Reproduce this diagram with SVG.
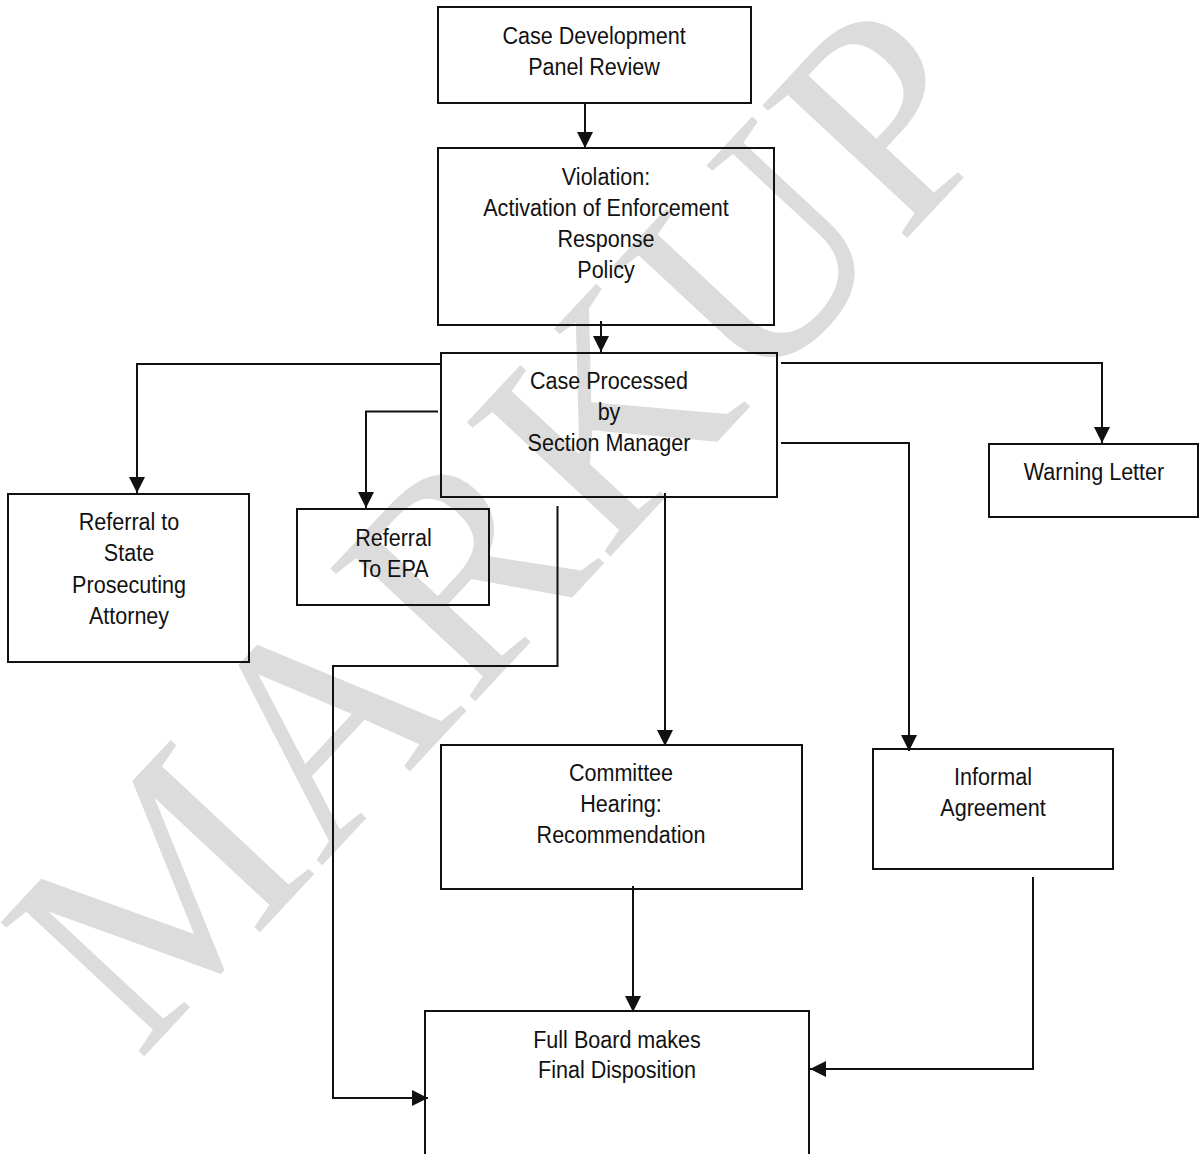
<svg xmlns="http://www.w3.org/2000/svg" width="1200" height="1154" viewBox="0 0 1200 1154">
<style>
  .box { fill: none; stroke: #111; stroke-width: 2; }
  .lbl { font-family: "Liberation Sans", Arial, sans-serif; font-size: 24.5px; fill: #111; text-anchor: middle; }
  .conn { fill: none; stroke: #111; stroke-width: 2; }
  .wm { font-family: "Liberation Serif", "Times New Roman", serif; font-size: 300px; fill: #dcdcdc; text-anchor: middle; }
</style>
<defs>
  <marker id="arr" markerUnits="userSpaceOnUse" markerWidth="16" markerHeight="16" viewBox="0 0 14 14" refX="14" refY="7" orient="auto">
    <path d="M0,0 L14,7 L0,14 Z" fill="#111"/>
  </marker>
</defs>
<rect width="1200" height="1154" fill="#fff"/>
<g id="watermark">
  <text class="wm" transform="translate(503,525) rotate(-47)" x="0" y="100">MARKUP</text>
</g>
<g id="connectors">
  <path class="conn" d="M585,103 V148" marker-end="url(#arr)"/>
  <path class="conn" d="M601,321 V352" marker-end="url(#arr)"/>
  <path class="conn" d="M441,364 H137 V493" marker-end="url(#arr)"/>
  <path class="conn" d="M438,411.5 H366 V508" marker-end="url(#arr)"/>
  <path class="conn" d="M557.5,506 V666 H333 V1098 H428" marker-end="url(#arr)"/>
  <path class="conn" d="M665,493 V746" marker-end="url(#arr)"/>
  <path class="conn" d="M781,363 H1102 V443" marker-end="url(#arr)"/>
  <path class="conn" d="M781,443 H909 V751" marker-end="url(#arr)"/>
  <path class="conn" d="M633,886 V1012" marker-end="url(#arr)"/>
  <path class="conn" d="M1033,877 V1069 H810" marker-end="url(#arr)"/>
</g>
<g id="n1">
  <rect class="box" x="438" y="7" width="313" height="96"/>
  <g transform="translate(594,0) scale(0.88,1)">
    <text class="lbl" x="0" y="44.5">Case Development</text>
    <text class="lbl" x="0" y="75">Panel Review</text>
  </g>
</g>
<g id="n2">
  <rect class="box" x="438" y="148" width="336" height="177"/>
  <g transform="translate(606,0) scale(0.88,1)">
    <text class="lbl" x="0" y="185">Violation:</text>
    <text class="lbl" x="0" y="216">Activation of Enforcement</text>
    <text class="lbl" x="0" y="247">Response</text>
    <text class="lbl" x="0" y="278">Policy</text>
  </g>
</g>
<g id="n3">
  <rect class="box" x="441" y="353" width="336" height="144"/>
  <g transform="translate(609,0) scale(0.88,1)">
    <text class="lbl" x="0" y="389">Case Processed</text>
    <text class="lbl" x="0" y="420">by</text>
    <text class="lbl" x="0" y="451">Section Manager</text>
  </g>
</g>
<g id="n4">
  <rect class="box" x="8" y="494" width="241" height="168"/>
  <g transform="translate(129,0) scale(0.88,1)">
    <text class="lbl" x="0" y="530">Referral to</text>
    <text class="lbl" x="0" y="561.5">State</text>
    <text class="lbl" x="0" y="593">Prosecuting</text>
    <text class="lbl" x="0" y="624">Attorney</text>
  </g>
</g>
<g id="n5">
  <rect class="box" x="297" y="509" width="192" height="96"/>
  <g transform="translate(393.5,0) scale(0.88,1)">
    <text class="lbl" x="0" y="546">Referral</text>
    <text class="lbl" x="0" y="577">To EPA</text>
  </g>
</g>
<g id="n6">
  <rect class="box" x="989" y="444" width="209" height="73"/>
  <g transform="translate(1094,0) scale(0.88,1)">
    <text class="lbl" x="0" y="480">Warning Letter</text>
  </g>
</g>
<g id="n7">
  <rect class="box" x="441" y="745" width="361" height="144"/>
  <g transform="translate(621,0) scale(0.88,1)">
    <text class="lbl" x="0" y="781">Committee</text>
    <text class="lbl" x="0" y="812.5">Hearing:</text>
    <text class="lbl" x="0" y="843.5">Recommendation</text>
  </g>
</g>
<g id="n8">
  <rect class="box" x="873" y="749" width="240" height="120"/>
  <g transform="translate(993,0) scale(0.88,1)">
    <text class="lbl" x="0" y="785">Informal</text>
    <text class="lbl" x="0" y="816.5">Agreement</text>
  </g>
</g>
<g id="n9">
  <rect class="box" x="425" y="1011" width="384" height="170"/>
  <g transform="translate(617,0) scale(0.88,1)">
    <text class="lbl" x="0" y="1048">Full Board makes</text>
    <text class="lbl" x="0" y="1078.5">Final Disposition</text>
  </g>
</g>
</svg>
